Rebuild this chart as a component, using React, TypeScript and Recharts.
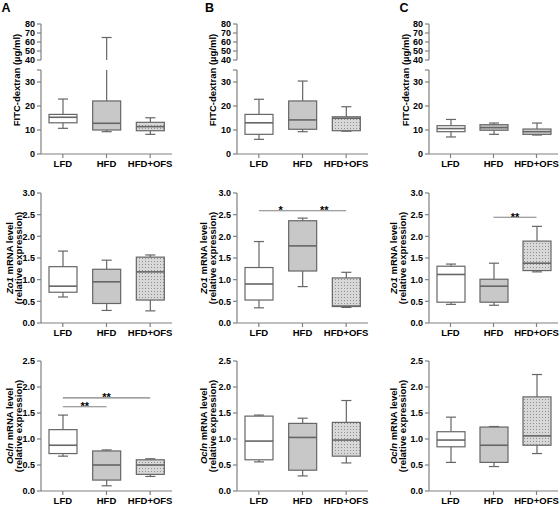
import React from 'react';
import { ComposedChart, Bar, Cell, XAxis, YAxis, ReferenceLine } from 'recharts';

const groups = ['LFD', 'HFD', 'HFD+OFS'];

// box stats per group: [min, q1, median, q3, max]
const fitcA = [[10.7, 13.0, 15.3, 16.5, 22.9], [9.3, 10.0, 12.8, 22.1, 65], [8.2, 9.7, 11.4, 13.2, 15.1]];
const fitcB = [[6.1, 8.2, 13.0, 16.5, 22.8], [9.3, 10.3, 14.2, 22.1, 30.4], [9.5, 9.7, 14.9, 15.5, 19.7]];
const fitcC = [[7.1, 9.3, 10.6, 11.8, 14.4], [8.2, 9.9, 11.0, 12.2, 12.9], [7.9, 8.2, 9.3, 10.4, 12.9]];
const zo1A = [[0.6, 0.71, 0.85, 1.3, 1.66], [0.29, 0.45, 0.95, 1.24, 1.45], [0.28, 0.53, 1.18, 1.52, 1.57]];
const zo1B = [[0.35, 0.53, 0.9, 1.28, 1.88], [0.84, 1.2, 1.78, 2.36, 2.42], [0.36, 0.38, 0.39, 1.04, 1.17]];
const zo1C = [[0.43, 0.48, 1.12, 1.31, 1.36], [0.41, 0.48, 0.85, 1.01, 1.38], [1.18, 1.21, 1.38, 1.89, 2.23]];
const oclnA = [[0.67, 0.72, 0.88, 1.18, 1.46], [0.1, 0.21, 0.5, 0.77, 0.79], [0.28, 0.32, 0.5, 0.6, 0.62]];
const oclnB = [[0.56, 0.6, 0.96, 1.44, 1.46], [0.29, 0.4, 1.03, 1.3, 1.4], [0.54, 0.67, 0.98, 1.32, 1.74]];
const oclnC = [[0.55, 0.85, 0.98, 1.14, 1.42], [0.47, 0.55, 0.88, 1.23, 1.24], [0.72, 0.88, 1.06, 1.81, 2.24]];

// broken FITC axis: 0-35 below the break, 40-80 above it
const fitcUpperTicks = [40, 50, 60, 70, 80];
const fitcLowerTicks = [0, 10, 20, 30, 35];
const zo1Ticks = [0, 0.5, 1, 1.5, 2, 2.5, 3];
const oclnTicks = [0, 0.5, 1, 1.5, 2, 2.5];

// significance bars
const zo1BBrackets = [{ from: 'LFD', to: 'HFD+OFS', y: 2.59 }];
const zo1BStars = [
  { from: 'LFD', to: 'HFD', y: 2.59, text: '*' },
  { from: 'HFD', to: 'HFD+OFS', y: 2.59, text: '**' },
];
const zo1CBrackets = [{ from: 'HFD', to: 'HFD+OFS', y: 2.44 }];
const zo1CStars = [{ from: 'HFD', to: 'HFD+OFS', y: 2.44, text: '**' }];
const oclnABrackets = [
  { from: 'LFD', to: 'HFD+OFS', y: 1.79 },
  { from: 'LFD', to: 'HFD', y: 1.62 },
];
const oclnAStars = [
  { from: 'LFD', to: 'HFD+OFS', y: 1.79, text: '**' },
  { from: 'LFD', to: 'HFD', y: 1.62, text: '**' },
];

const groupFills = ['#ffffff', '#c8c8c8', 'url(#ofsDots)'];

const FONT = '"Liberation Sans", Arial, sans-serif';
const AXIS = '#808080';
const BOX = '#666666';
const Y_W = 46;
const M_R = 4;
const X_H = 20;
const BAR = 28;

const COLS = [
  { axisX: 41, plotW: 131, titleDx: [32, 22.5], fitcDx: 25, letter: 'A', letterX: 1.5 },
  { axisX: 236.5, plotW: 131, titleDx: [34, 24.5], fitcDx: 24.5, letter: 'B', letterX: 205 },
  { axisX: 429, plotW: 129, titleDx: [36, 26.5], fitcDx: 24, letter: 'C', letterX: 399.5 },
];

const tickY = { fontSize: 9, fontWeight: 'bold', fill: '#000' };
const tickX = { fontSize: 9.5, fontWeight: 'bold', fill: '#000' };
const axisLine = { stroke: AXIS, strokeWidth: 1.2 };

const toRows = (stats: number[][]) =>
  groups.map((g, i) => ({ name: g, range: [stats[i][0], stats[i][4]], stats: stats[i] }));

function BoxShape(props: any) {
  const { x, y, width, height, payload, fill, lo = -Infinity, hi = Infinity } = props;
  if (!payload || !payload.stats) return null;
  const [mn, q1, med, q3, mx] = payload.stats;
  const py = (v: number) => y + ((mx - v) / (mx - mn)) * height;
  const cx = x + width / 2;
  const cap = width * 0.36;
  const inR = (v: number) => v >= lo && v <= hi;
  const seg = (a: number, b: number) => {
    const a2 = Math.max(a, lo);
    const b2 = Math.min(b, hi);
    return a2 < b2 ? [a2, b2] : null;
  };
  const w1 = seg(mn, q1);
  const w2 = seg(q3, mx);
  const bx = seg(q1, q3);
  const sw = 1.2;
  return (
    <g>
      {w1 && <line x1={cx} x2={cx} y1={py(w1[0])} y2={py(w1[1])} stroke={BOX} strokeWidth={sw} />}
      {w2 && <line x1={cx} x2={cx} y1={py(w2[0])} y2={py(w2[1])} stroke={BOX} strokeWidth={sw} />}
      {inR(mn) && <line x1={cx - cap / 2} x2={cx + cap / 2} y1={py(mn)} y2={py(mn)} stroke={BOX} strokeWidth={sw} />}
      {inR(mx) && <line x1={cx - cap / 2} x2={cx + cap / 2} y1={py(mx)} y2={py(mx)} stroke={BOX} strokeWidth={sw} />}
      {bx && (
        <rect x={x} y={py(bx[1])} width={width} height={py(bx[0]) - py(bx[1])} fill={fill} stroke={BOX} strokeWidth={sw} />
      )}
      {inR(med) && <line x1={x} x2={x + width} y1={py(med)} y2={py(med)} stroke={BOX} strokeWidth={1.6} />}
    </g>
  );
}

function YTitle(props: any) {
  const { viewBox, lines, dx, shift = 0 } = props;
  if (!viewBox) return null;
  const axisX = viewBox.x + viewBox.width;
  const cy = viewBox.y + viewBox.height / 2 + shift;
  return (
    <g>
      {lines.map((ln: React.ReactNode, i: number) => {
        const cx = axisX - dx[i];
        return (
          <text
            key={i}
            x={cx}
            y={cy}
            transform={`rotate(-90 ${cx} ${cy})`}
            textAnchor="middle"
            dominantBaseline="central"
            fontSize={9.5}
            fontWeight="bold"
            fill="#000"
          >
            {ln}
          </text>
        );
      })}
    </g>
  );
}

function StarLabel(props: any) {
  const { viewBox, text } = props;
  if (!viewBox) return null;
  return (
    <text x={viewBox.x + viewBox.width / 2} y={viewBox.y + 3.5} textAnchor="middle" fontSize={11} fontWeight="bold" fill="#000">
      {text}
    </text>
  );
}

type Bracket = { from: string; to: string; y: number };
type Star = Bracket & { text: string };

function BoxPanel(props: {
  col: (typeof COLS)[number];
  top: number;
  plotH: number;
  stats: number[][];
  domain: [number, number];
  ticks: number[];
  fmt: (v: number) => string;
  title: React.ReactNode[];
  brackets?: Bracket[];
  stars?: Star[];
}) {
  const { col, top, plotH, stats, domain, ticks, fmt, title, brackets = [], stars = [] } = props;
  const rows = toRows(stats);
  const mt = 10;
  return (
    <div style={{ position: 'absolute', left: col.axisX - Y_W, top: top - mt }}>
      <ComposedChart width={Y_W + col.plotW + M_R} height={mt + plotH + X_H} data={rows} margin={{ top: mt, right: M_R, bottom: 0, left: 0 }}>
        <XAxis dataKey="name" height={X_H} interval={0} tickSize={4} tickMargin={2} axisLine={axisLine} tickLine={axisLine} tick={tickX} />
        <XAxis xAxisId="top" orientation="top" dataKey="name" height={0} tick={false} tickLine={false} axisLine={axisLine} />
        <YAxis
          width={Y_W}
          domain={domain}
          ticks={ticks}
          interval={0}
          allowDataOverflow
          tickFormatter={fmt}
          tickSize={4}
          tickMargin={2}
          axisLine={axisLine}
          tickLine={axisLine}
          tick={tickY}
          label={(p: any) => <YTitle {...p} lines={title} dx={col.titleDx} />}
        />
        <YAxis yAxisId="right" orientation="right" width={0} domain={[0, 1]} tick={false} tickLine={false} axisLine={axisLine} />
        {brackets.map((b, i) => (
          <ReferenceLine key={'b' + i} segment={[{ x: b.from, y: b.y }, { x: b.to, y: b.y }]} stroke={AXIS} strokeWidth={1.2} ifOverflow="visible" />
        ))}
        {stars.map((s, i) => (
          <ReferenceLine
            key={'s' + i}
            segment={[{ x: s.from, y: s.y }, { x: s.to, y: s.y }]}
            stroke="none"
            ifOverflow="visible"
            label={(p: any) => <StarLabel {...p} text={s.text} />}
          />
        ))}
        <Bar dataKey="range" barSize={BAR} isAnimationActive={false} shape={(p: any) => <BoxShape {...p} />}>
          {rows.map((r, i) => (
            <Cell key={r.name} fill={groupFills[i]} />
          ))}
        </Bar>
      </ComposedChart>
    </div>
  );
}

const fitcTitle = ['FITC-dextran (\u00b5g/ml)'];

function FitcPanel({ col, stats }: { col: (typeof COLS)[number]; stats: number[][] }) {
  const rows = toRows(stats);
  const upperTop = 24;
  const upperH = 46; // 80 down to the bottom of the break
  const lowerTop = 70;
  const lowerH = 84;
  const w = Y_W + col.plotW + M_R;
  const mt = 10;
  const lowerMt = lowerTop - (upperTop - mt);
  return (
    <>
      <div style={{ position: 'absolute', left: col.axisX - Y_W, top: upperTop - mt }}>
        <ComposedChart width={w} height={mt + upperH} data={rows} margin={{ top: mt, right: M_R, bottom: 0, left: 0 }}>
          <XAxis dataKey="name" hide />
          <XAxis xAxisId="top" orientation="top" dataKey="name" height={0} tick={false} tickLine={false} axisLine={axisLine} />
          <XAxis xAxisId="edge" type="number" domain={[0, 1]} hide />
          <YAxis
            width={Y_W}
            domain={[28.9, 80]}
            ticks={fitcUpperTicks}
            interval={0}
            allowDataOverflow
            tickSize={4}
            tickMargin={2}
            axisLine={false}
            tickLine={axisLine}
            tick={tickY}
          />
          <YAxis yAxisId="right" orientation="right" width={0} domain={[0, 1]} tick={false} tickLine={false} axisLine={axisLine} />
          <ReferenceLine xAxisId="edge" segment={[{ x: 0, y: 40 }, { x: 0, y: 80 }]} stroke={AXIS} strokeWidth={1.2} ifOverflow="visible" />
          <Bar dataKey="range" barSize={BAR} isAnimationActive={false} shape={(p: any) => <BoxShape {...p} lo={40} hi={80} />}>
            {rows.map((r, i) => (
              <Cell key={r.name} fill={groupFills[i]} />
            ))}
          </Bar>
        </ComposedChart>
      </div>
      <div style={{ position: 'absolute', left: col.axisX - Y_W, top: upperTop - mt }}>
        <ComposedChart width={w} height={lowerMt + lowerH + X_H} data={rows} margin={{ top: lowerMt, right: M_R, bottom: 0, left: 0 }}>
          <XAxis dataKey="name" height={X_H} interval={0} tickSize={4} tickMargin={2} axisLine={axisLine} tickLine={axisLine} tick={tickX} />
          <YAxis
            width={Y_W}
            domain={[0, 35]}
            ticks={fitcLowerTicks}
            interval={0}
            allowDataOverflow
            tickFormatter={(v: number) => (v === 35 ? '' : String(v))}
            tickSize={4}
            tickMargin={2}
            axisLine={axisLine}
            tickLine={axisLine}
            tick={tickY}
            label={(p: any) => <YTitle {...p} lines={fitcTitle} dx={[col.fitcDx]} shift={-32} />}
          />
          <YAxis yAxisId="right" orientation="right" width={0} domain={[0, 1]} tick={false} tickLine={false} axisLine={axisLine} />
          <Bar dataKey="range" barSize={BAR} isAnimationActive={false} shape={(p: any) => <BoxShape {...p} />}>
            {rows.map((r, i) => (
              <Cell key={r.name} fill={groupFills[i]} />
            ))}
          </Bar>
        </ComposedChart>
      </div>
    </>
  );
}

const zo1Title = [
  <>
    <tspan fontStyle="italic">Zo1</tspan> mRNA level
  </>,
  '(relative expression)',
];
const oclnTitle = [
  <>
    <tspan fontStyle="italic">Ocln</tspan> mRNA level
  </>,
  '(relative expression)',
];

const fmt1 = (v: number) => v.toFixed(1);

export default function App() {
  const fitc = [fitcA, fitcB, fitcC];
  const zo1 = [zo1A, zo1B, zo1C];
  const ocln = [oclnA, oclnB, oclnC];
  const zo1Brackets = [[], zo1BBrackets, zo1CBrackets];
  const zo1Stars = [[], zo1BStars, zo1CStars];
  const oclnBrackets = [oclnABrackets, [], []];
  const oclnStars = [oclnAStars, [], []];
  return (
    <div
      style={{
        position: 'absolute',
        left: 0,
        top: 0,
        width: 560,
        height: 505,
        overflow: 'hidden',
        background: '#fff',
        fontFamily: FONT,
      }}
    >
      <svg width={0} height={0} style={{ position: 'absolute' }}>
        <defs>
          <pattern id="ofsDots" width={3} height={3} patternUnits="userSpaceOnUse">
            <rect width={3} height={3} fill="#d8d8d8" />
            <rect width={1} height={1} fill="#909090" />
          </pattern>
        </defs>
      </svg>
      {COLS.map((col, i) => (
        <React.Fragment key={col.letter}>
          <div style={{ position: 'absolute', left: col.letterX, top: 1.5, fontSize: 12.5, fontWeight: 'bold', lineHeight: 1 }}>
            {col.letter}
          </div>
          <FitcPanel col={col} stats={fitc[i]} />
          <BoxPanel
            col={col}
            top={193}
            plotH={130}
            stats={zo1[i]}
            domain={[0, 3]}
            ticks={zo1Ticks}
            fmt={fmt1}
            title={zo1Title}
            brackets={zo1Brackets[i]}
            stars={zo1Stars[i]}
          />
          <BoxPanel
            col={col}
            top={361}
            plotH={130}
            stats={ocln[i]}
            domain={[0, 2.5]}
            ticks={oclnTicks}
            fmt={fmt1}
            title={oclnTitle}
            brackets={oclnBrackets[i]}
            stars={oclnStars[i]}
          />
        </React.Fragment>
      ))}
    </div>
  );
}
